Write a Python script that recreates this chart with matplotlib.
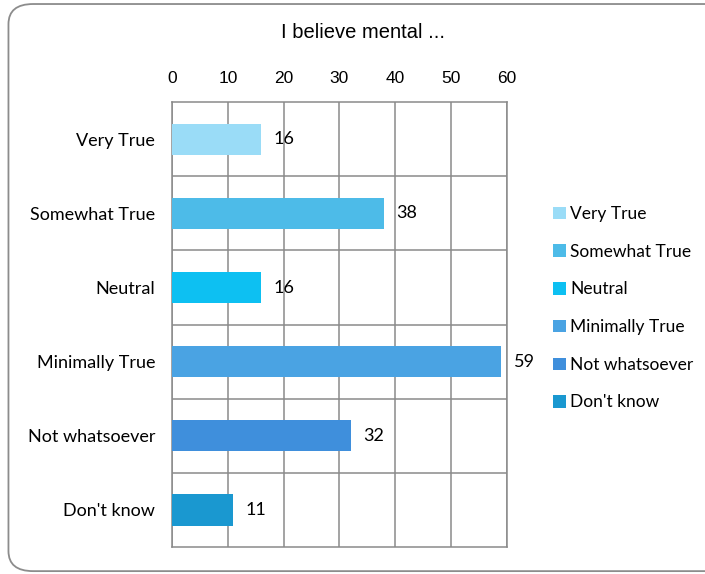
import matplotlib.pyplot as plt
from matplotlib.patches import FancyBboxPatch, Patch

categories = ["Very True", "Somewhat True", "Neutral", "Minimally True", "Not whatsoever", "Don't know"]
values = [16, 38, 16, 59, 32, 11]
colors = ["#9adcf7", "#4dbbe8", "#0dc0f2", "#4aa3e3", "#3f8fdc", "#1a98d0"]
xticks = [0, 10, 20, 30, 40, 50, 60]

fig = plt.figure(figsize=(7.05, 5.74), dpi=100)

# rounded outer frame, runs off the right edge like the source
frame = FancyBboxPatch((0.012, 0.005), 1.1, 0.988, boxstyle="round,pad=0,rounding_size=0.035",
                       transform=fig.transFigure, fill=False, edgecolor="#8c8c8c", linewidth=1.3)
fig.patches.append(frame)

ax = fig.add_axes([0.244, 0.047, 0.475, 0.775])
ypos = list(range(len(categories)))
ax.barh(ypos, values, height=0.42, color=colors, zorder=3)
for y, v in zip(ypos, values):
    ax.text(v + 2.2, y, str(v), va="center", ha="left", fontsize=13, family="Lato", zorder=4)

ax.set_xlim(0, 60)
ax.set_ylim(len(categories) - 0.5, -0.5)
ax.set_xticks(xticks)
ax.xaxis.tick_top()
ax.tick_params(axis="x", length=0, pad=12, labelsize=12.5)
for lab in ax.get_xticklabels():
    lab.set_family("Liberation Sans")
ax.set_yticks(ypos)
ax.set_yticklabels(categories, fontsize=13, family="Lato")
ax.tick_params(axis="y", length=0, pad=12)

ax.set_yticks([y + 0.5 for y in ypos[:-1]], minor=True)
ax.tick_params(axis="y", which="minor", length=0)
ax.grid(axis="x", color="#8a8a8a", linewidth=1.1, zorder=1)
ax.grid(axis="y", which="minor", color="#8a8a8a", linewidth=1.1, zorder=1)
for s in ax.spines.values():
    s.set_color("#8a8a8a")
    s.set_linewidth(1.1)

fig.text(0.515, 0.943, "I believe mental ...", ha="center", va="center", fontsize=14.5, family="Liberation Sans")

handles = [Patch(facecolor=c, label=l) for c, l in zip(colors, categories)]
fig.legend(handles=handles, loc="center left", bbox_to_anchor=(0.7845, 0.463), frameon=False,
           prop={"family": "Lato", "size": 12.5}, handlelength=0.72, handleheight=0.72,
           handletextpad=0.25, labelspacing=1.25, borderpad=0, borderaxespad=0)

fig.savefig("out.png", dpi=100)
